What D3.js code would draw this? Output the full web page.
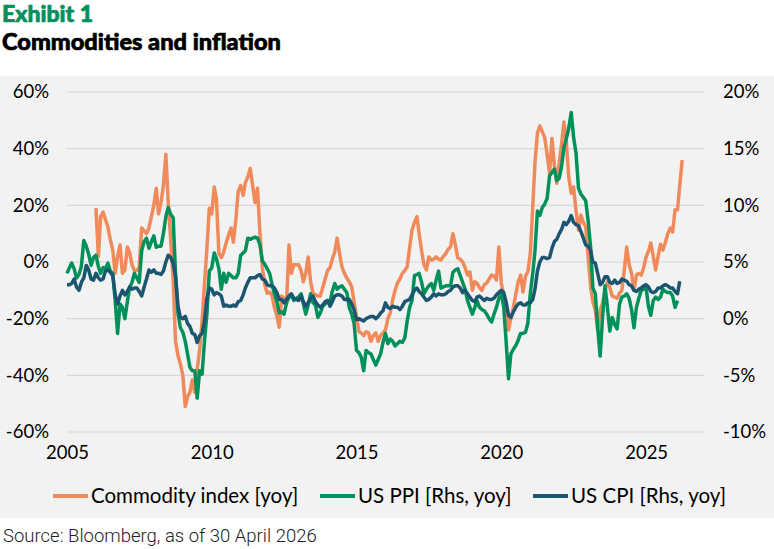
<!DOCTYPE html>
<html><head><meta charset="utf-8">
<script src="https://cdn.jsdelivr.net/npm/d3@7"></script>
<style>body{margin:0;background:#fff;} svg{display:block}</style>
</head><body>
<svg id="c" width="774" height="549"></svg>
<script>
// ---- data ----
const yearTicks = [2005, 2010, 2015, 2020, 2025];
const leftTicks = [-60, -40, -20, 0, 20, 40, 60];
const rightTicks = [-10, -5, 0, 5, 10, 15, 20];
const seriesNames = ["Commodity index [yoy]", "US PPI [Rhs, yoy]", "US CPI [Rhs, yoy]"];
const commodityStartYear = 2006; // monthly from Jan 2006
const ppiStartYear = 2005;       // monthly from Jan 2005
const cpiStartYear = 2005;       // monthly from Jan 2005

const commodityYoy = [
  19, 2, 16, 17.6, 15, 12.4, 8, 4.2, -4, 2, 6, -4,
  -2.8, 5.3, 3.5, -1, -3, -3, -2, 12, 11, 10, 12, 16,
  20, 26, 17, 21, 27, 38, 20.8, 8, -6.4, -28, -33, -36,
  -40, -51, -47.6, -46, -41.6, -46, -38, -31, -21, -8, 5, 19,
  17, 26.5, 22, 3, 1.5, 3.5, 6.7, 9.4, 12, 7, 15, 25,
  27, 23.5, 28, 30, 33, 27, 21, 26, 10, -2, -8, -11,
  -10.6, -12, -16, -19, -23, -12, -13, -14.6, 6, -4, -1, -1,
  -1, -3, -7, -4, 1.8, -7, -11, -11.5, -12, -12, -9, -6,
  -3, -2, 1, 3.5, 8.5, 3, -1.7, -4, -5.7, -7, -8.7, -14,
  -19.4, -24.6, -25, -26, -24.6, -25, -28, -26, -25, -28, -26, -25,
  -24, -20, -18, -13.4, -10, -7.4, -6, -4, -3, -1.7, 5, 11.3,
  14, 16, 10, 4, -1, -2.8, 1.8, 0.7, 1, 1.8, 1, 0.7,
  2, 3, 4.5, 5.3, 10, 6, 1.4, 1, 0, -2, -4.6, -3.5,
  -10, -7, -7.5, -9, -10, -8, -7.4, -6, -4.6, -5, -6.4, 5.3,
  -7.4, -12, -16, -24, -20, -16, -11.6, -7, -4.6, -10.6, -5, -3.5,
  3, 19.5, 35, 45.5, 48, 46, 44, 38, 31.3, 43.6, 34, 27.8,
  35, 42, 49.4, 42, 30, 24.3, 26.5, 18, 11.3, 16.6, 14, 12.4,
  1.8, -8.8, -14, -17, -24, -17, -14.5, -10, -7, -9, -12, -12.4,
  -12.8, -11, -10, -2.8, 5.3, -1, -4, -10, -4.6, -4, -4.6, -2,
  1.8, 4, 6.7, 2, -2.8, 2, 6.3, 4.2, 7, 10, 12, 10.6,
  18.4, 18.4, 27, 36
];

const ppiYoy = [
  4.0, 4.5, 4.9, 4.4, 3.6, 3.9, 4.6, 6.9, 6.4, 5.7, 4.7, 5.4,
  5.6, 4.6, 4.0, 4.5, 4.4, 4.9, 4.2, 4.0, 1.6, -1.3, 1.3, 1.0,
  0.0, 1.5, 2.7, 3.2, 4.0, 3.6, 3.2, 6.0, 6.8, 7.1, 6.2, 6.8,
  7.3, 6.3, 6.4, 6.4, 7.5, 9.0, 9.8, 9.2, 8.9, 4.0, 0.5, -0.8,
  -1.2, -2.0, -3.1, -4.3, -4.6, -4.6, -7.0, -4.6, -4.9, -2.0, 0.4, 4.2,
  4.5, 5.8, 5.3, 4.4, 2.6, 4.0, 3.2, 4.0, 3.8, 3.6, 3.6, 4.0,
  5.6, 5.8, 6.0, 7.1, 7.0, 7.1, 7.2, 7.1, 6.5, 5.1, 4.8, 4.4,
  4.0, 3.0, 2.2, 1.5, 0.5, 0.6, 0.4, 1.4, 1.9, 2.0, 1.6, 1.8,
  1.9, 2.2, 1.3, 0.4, 1.2, 2.2, 1.4, 1.2, 0.1, 0.5, 1.1, 1.3,
  1.6, 1.5, 2.4, 3.1, 2.6, 2.8, 2.9, 2.6, 2.3, 1.0, 0.4, -0.4,
  -2.8, -3.0, -3.4, -4.6, -2.8, -3.0, -3.1, -3.6, -4.1, -3.6, -3.1, -2.1,
  -1.3, -2.2, -1.8, -2.0, -2.4, -2.2, -2.0, -2.1, -1.7, -0.2, 1.0, 1.6,
  3.8, 3.9, 4.0, 3.2, 2.2, 2.6, 2.9, 3.1, 2.5, 3.4, 4.2, 2.7,
  2.8, 2.9, 2.9, 2.9, 4.1, 4.3, 4.4, 3.8, 3.2, 2.6, 1.6, 1.0,
  0.4, 1.0, 1.6, 1.0, 0.8, 0.7, 0.4, 0.0, -0.3, 0.4, 1.0, 1.8,
  2.2, 1.0, -1.9, -5.3, -3.1, -2.7, -2.4, -1.9, -1.3, -1.3, -1.2, -0.4,
  2.2, 4.0, 6.0, 9.5, 9.1, 9.8, 10.1, 10.6, 12.6, 12.9, 13.2, 12.2,
  12.4, 13.5, 15.1, 15.9, 16.8, 18.2, 16.0, 14.6, 11.5, 11.0, 10.7, 10.4,
  8.6, 6.3, 2.7, 2.2, -0.8, -3.3, 0.1, 2.9, 1.0, -1.1, 0.1, -0.5,
  -0.9, 1.3, 1.9, 2.0, 2.2, 1.8, 0.8, -0.8, 1.0, 1.8, 2.5, 2.6,
  2.7, 1.0, 0.3, 1.6, 1.9, 1.7, 1.9, 2.6, 2.4, 2.3, 2.3, 2.0,
  1.0, 1.6
];

const cpiYoy = [
  3.0, 3.0, 3.1, 3.5, 2.8, 2.5, 3.2, 3.6, 4.7, 4.3, 3.5, 3.4,
  4.0, 3.6, 3.4, 3.5, 4.2, 4.3, 4.1, 3.8, 2.1, 1.3, 2.0, 2.5,
  2.1, 2.4, 2.8, 2.6, 2.7, 2.7, 2.4, 2.0, 2.8, 3.5, 4.3, 4.1,
  4.3, 4.0, 4.0, 3.9, 4.2, 5.0, 5.6, 5.4, 4.9, 3.7, 1.1, 0.1,
  0.0, 0.2, -0.4, -0.7, -1.3, -1.4, -2.1, -1.5, -1.3, -0.2, 1.8, 2.7,
  2.6, 2.1, 2.3, 2.2, 2.0, 1.1, 1.2, 1.1, 1.1, 1.2, 1.1, 1.5,
  1.6, 2.1, 2.7, 3.2, 3.6, 3.6, 3.6, 3.8, 3.9, 3.5, 3.4, 3.0,
  2.9, 2.9, 2.7, 2.3, 1.7, 1.7, 1.4, 1.7, 2.0, 2.2, 1.8, 1.7,
  1.6, 2.0, 1.5, 1.1, 1.4, 1.8, 2.0, 1.5, 1.2, 1.0, 1.2, 1.5,
  1.6, 1.1, 1.5, 2.0, 2.1, 2.1, 2.0, 1.7, 1.7, 1.7, 1.3, 0.8,
  -0.1, 0.0, -0.1, -0.2, 0.0, 0.1, 0.2, 0.2, 0.0, 0.2, 0.5, 0.7,
  1.4, 1.0, 0.9, 1.1, 1.0, 1.0, 0.8, 1.1, 1.5, 1.6, 1.7, 2.1,
  2.5, 2.7, 2.4, 2.2, 1.9, 1.6, 1.7, 1.9, 2.2, 2.0, 2.2, 2.1,
  2.1, 2.2, 2.4, 2.5, 2.8, 2.9, 2.9, 2.7, 2.3, 2.5, 2.2, 1.9,
  1.6, 1.5, 1.9, 2.0, 1.8, 1.6, 1.8, 1.7, 1.7, 1.8, 2.1, 2.3,
  2.5, 2.3, 1.5, 0.3, 0.1, 0.6, 1.0, 1.3, 1.4, 1.2, 1.2, 1.4,
  1.4, 1.7, 2.6, 4.2, 5.0, 5.4, 5.4, 5.3, 5.4, 6.2, 6.8, 7.0,
  7.5, 7.9, 8.5, 8.3, 8.6, 9.1, 8.5, 8.3, 8.2, 7.7, 7.1, 6.5,
  6.4, 6.0, 5.0, 4.9, 4.0, 3.0, 3.2, 3.7, 3.7, 3.2, 3.1, 3.4,
  3.1, 3.2, 3.5, 3.4, 3.3, 3.0, 2.9, 2.5, 2.4, 2.6, 2.7, 2.9,
  3.0, 2.8, 2.4, 2.3, 2.4, 2.7, 2.7, 2.9, 3.0, 2.9, 2.7, 2.7,
  2.4, 2.2, 3.3
];

// ---- styles ----
const colors = ["#F08A5B", "#00915A", "#1B5670"];
const W = 774, H = 549;
const svg = d3.select("#c");

const toSeries = (arr, startYear) => arr.map((v, i) => ({ date: new Date(startYear, i, 1), v }));
const commodity = toSeries(commodityYoy, commodityStartYear);
const ppi = toSeries(ppiYoy, ppiStartYear);
const cpi = toSeries(cpiYoy, cpiStartYear);

// panel
svg.append("rect").attr("x", 0).attr("y", 76).attr("width", W).attr("height", 442).attr("fill", "#f2f2f2");

const x = d3.scaleTime().domain([new Date(2005, 0, 1), new Date(2027, 0, 1)]).range([67, 704]);
const yL = d3.scaleLinear().domain([-60, 60]).range([432, 92]);
const yR = d3.scaleLinear().domain([-10, 20]).range([432, 92]);

const tickFont = "Lato, 'Open Sans', sans-serif";

// gridlines
svg.append("g").selectAll("line").data(leftTicks).join("line")
  .attr("x1", x.range()[0]).attr("x2", x.range()[1])
  .attr("y1", d => yL(d)).attr("y2", d => yL(d))
  .attr("stroke", "#d6d6d6").attr("stroke-width", 1.2);

// left axis
const gL = svg.append("g").attr("transform", "translate(49,0)")
  .call(d3.axisLeft(yL).tickValues(leftTicks).tickSize(0).tickPadding(0).tickFormat(d => d + "%"));
gL.select(".domain").remove();
gL.selectAll("text").attr("font-family", tickFont).attr("font-size", 18.5).attr("fill", "#000");

// right axis
const gR = svg.append("g").attr("transform", "translate(723,0)")
  .call(d3.axisRight(yR).tickValues(rightTicks).tickSize(0).tickPadding(0).tickFormat(d => d + "%"));
gR.select(".domain").remove();
gR.selectAll("text").attr("font-family", tickFont).attr("font-size", 18.5).attr("fill", "#000");

// bottom axis
const gB = svg.append("g").attr("transform", "translate(0,446)")
  .call(d3.axisBottom(x).tickValues(yearTicks.map(y => new Date(y, 0, 1))).tickSize(0).tickPadding(0).tickFormat(d3.timeFormat("%Y")));
gB.select(".domain").remove();
gB.selectAll("text").attr("font-family", tickFont).attr("font-size", 18.5).attr("fill", "#000").attr("dy", "0.71em");

// lines
const lineL = d3.line().x(d => x(d.date)).y(d => yL(d.v));
const lineR = d3.line().x(d => x(d.date)).y(d => yR(d.v));
const gLines = svg.append("g").attr("fill", "none").attr("stroke-width", 3.5)
  .attr("stroke-linejoin", "round").attr("stroke-linecap", "butt");
gLines.append("path").datum(commodity).attr("d", lineL).attr("stroke", colors[0]);
gLines.append("path").datum(ppi).attr("d", lineR).attr("stroke", colors[1]);
gLines.append("path").datum(cpi).attr("d", lineR).attr("stroke", colors[2]);

// legend
const legendX = [53, 320, 533];
const legY = 496;
const lg = svg.append("g");
seriesNames.forEach((name, i) => {
  lg.append("line").attr("x1", legendX[i]).attr("x2", legendX[i] + 35)
    .attr("y1", legY).attr("y2", legY).attr("stroke", colors[i]).attr("stroke-width", 4);
  lg.append("text").attr("x", legendX[i] + 38).attr("y", legY).attr("dy", "0.35em")
    .attr("font-family", tickFont).attr("font-size", 20.5).attr("fill", "#000").text(name);
});

// titles
svg.append("text").attr("x", 2).attr("y", 22).attr("font-family", "Lato, sans-serif").attr("font-weight", 900)
  .attr("font-size", 23).attr("fill", "#00915A").attr("stroke", "#00915A").attr("stroke-width", 0.7)
  .text("Exhibit 1");
svg.append("text").attr("x", 2).attr("y", 50).attr("font-family", "Lato, sans-serif").attr("font-weight", 900)
  .attr("font-size", 23.6).attr("fill", "#000").attr("stroke", "#000").attr("stroke-width", 0.7)
  .text("Commodities and inflation");

// source
svg.append("text").attr("x", 3).attr("y", 542).attr("font-family", "Roboto, sans-serif").attr("font-weight", 300)
  .attr("font-size", 18.5).attr("fill", "#222").text("Source: Bloomberg, as of 30 April 2026");
</script>
</body></html>
